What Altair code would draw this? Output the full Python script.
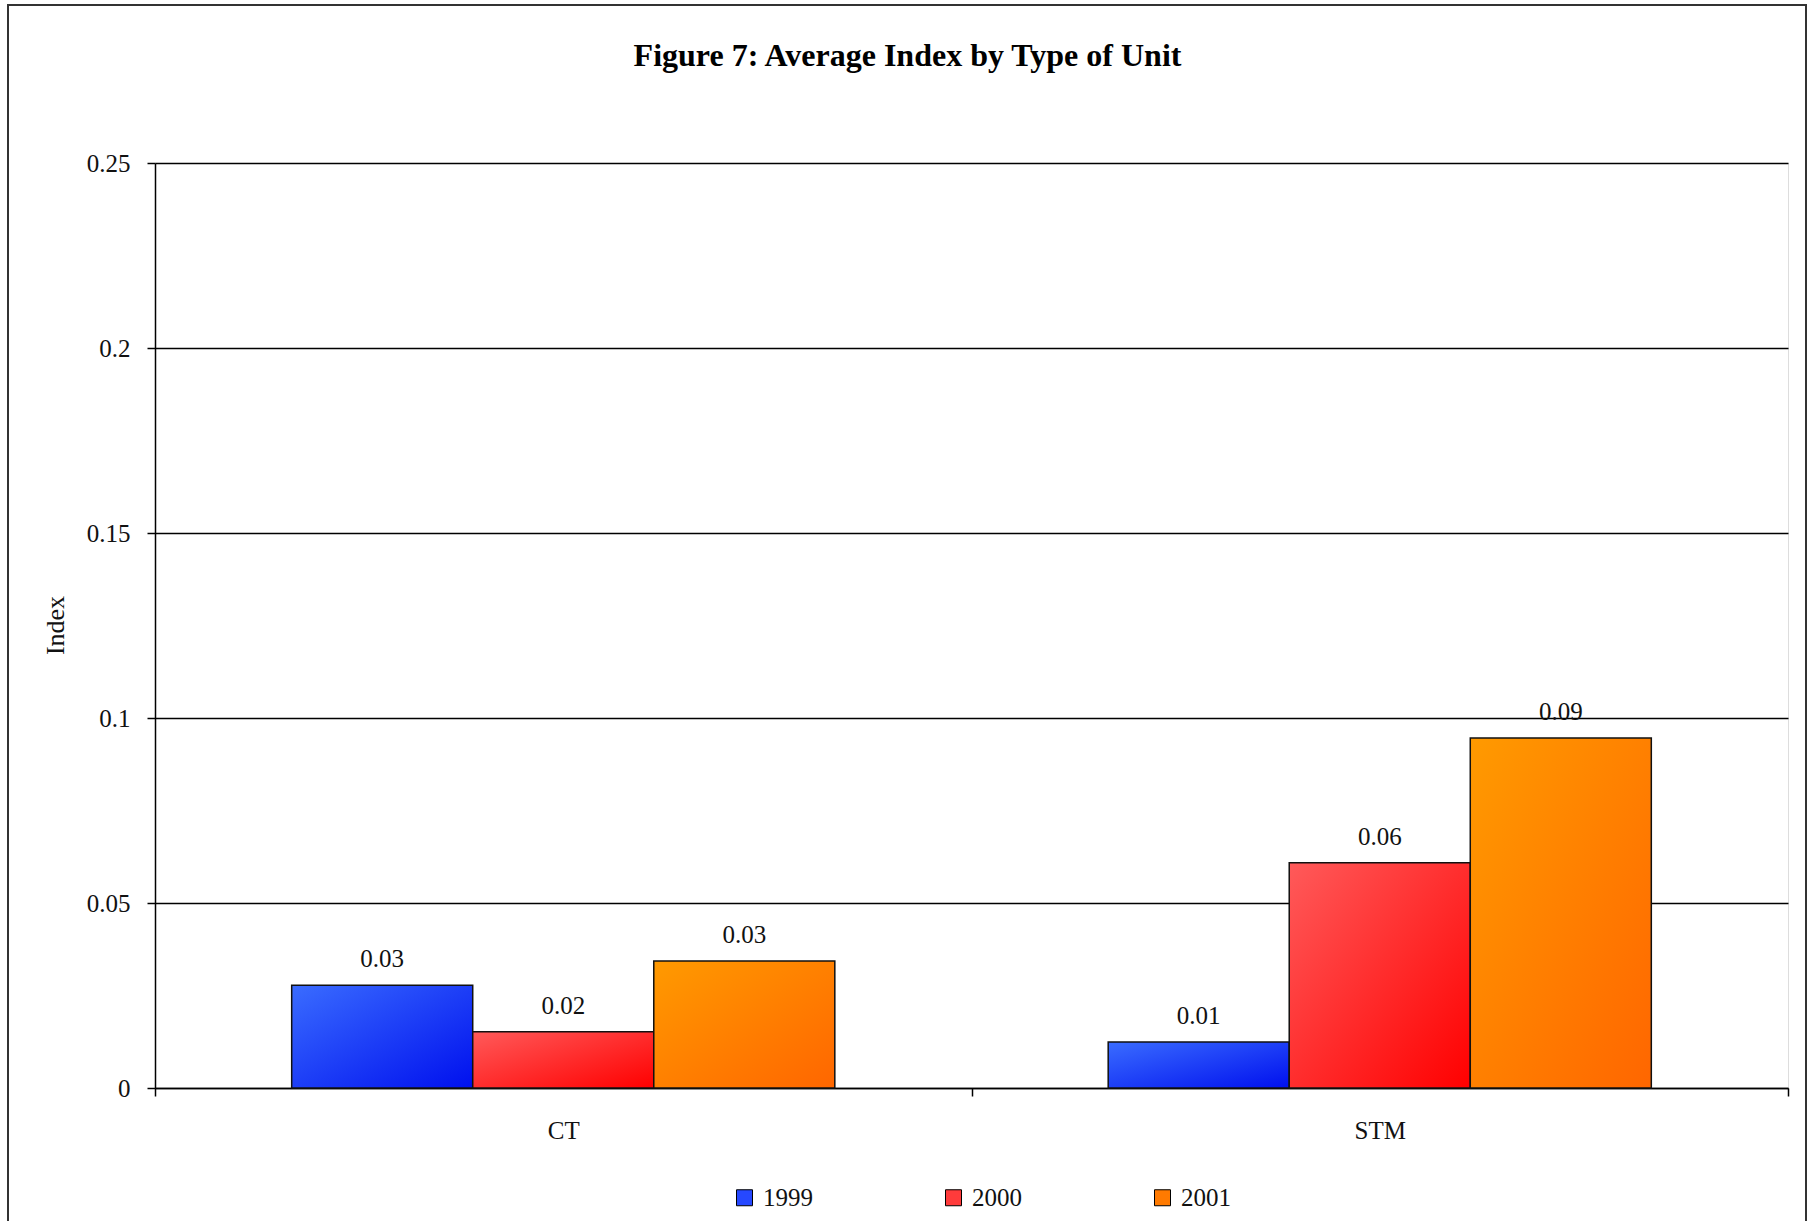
import altair as alt
import pandas as pd

# Average index per unit type and year
units = ["CT", "STM"]
years = ["1999", "2000", "2001"]
idx_1999 = [0.0278, 0.0124]
idx_2000 = [0.0152, 0.0609]
idx_2001 = [0.0343, 0.0946]

legend_colors = ["#2648ff", "#ff3b3b", "#ff7a00"]
gradient_stops = {
    "1999": ("#3a6cff", "#0010ee"),
    "2000": ("#ff5a5a", "#ff0000"),
    "2001": ("#ff9a00", "#ff6600"),
}

rows = []
for i, u in enumerate(units):
    for y, vals in zip(years, [idx_1999, idx_2000, idx_2001]):
        rows.append({"unit": u, "year": y, "index": vals[i]})
df = pd.DataFrame(rows)

SERIF = "Liberation Serif"

x_enc = alt.X(
    "unit:N",
    sort=units,
    scale=alt.Scale(paddingInner=0, paddingOuter=0),
    axis=alt.Axis(
        title=None, labelAngle=0, tickBand="extent", grid=False,
        labelFont=SERIF, labelFontSize=25, labelColor="#111",
        labelPadding=22, tickSize=8, tickColor="#000", domainColor="#000",
        domainWidth=1.5, tickWidth=1.5,
    ),
)
xoff_enc = alt.XOffset(
    "year:N", sort=years, scale=alt.Scale(paddingOuter=0.755, paddingInner=0)
)
y_enc = alt.Y(
    "index:Q",
    scale=alt.Scale(domain=[0, 0.25], nice=False),
    axis=alt.Axis(
        title="Index", values=[0, 0.05, 0.1, 0.15, 0.2, 0.25], format="~g",
        labelFont=SERIF, labelFontSize=25, labelColor="#111", labelPadding=17,
        tickSize=8, tickColor="#000", tickWidth=1.5, domainColor="#000",
        domainWidth=1.5, grid=True, gridColor="#000", gridWidth=1.3,
        titleFont=SERIF, titleFontSize=26, titleFontWeight="normal",
        titleColor="#111", titleX=-100, titleY=462, titleAngle=270,
        titleAlign="center", titleBaseline="middle",
    ),
)

base = alt.Chart(df)

# Flat-colour bars carrying the legend
legend_bars = base.mark_bar().encode(
    x=x_enc, xOffset=xoff_enc, y=y_enc,
    color=alt.Color(
        "year:N", sort=years,
        scale=alt.Scale(domain=years, range=legend_colors),
        legend=alt.Legend(
            title=None, orient="none", legendX=577, legendY=1022,
            direction="horizontal", columnPadding=128, symbolType="square",
            symbolSize=256, symbolStrokeColor="#000", symbolStrokeWidth=1,
            symbolOpacity=1, labelFont=SERIF, labelFontSize=25,
            labelColor="#111", labelOffset=6, padding=0,
        ),
    ),
)

# Shaded bars, one layer per year
shaded = []
for y in years:
    c0, c1 = gradient_stops[y]
    grad = alt.Gradient(
        gradient="linear",
        stops=[alt.GradientStop(color=c0, offset=0), alt.GradientStop(color=c1, offset=1)],
        x1=0, y1=0, x2=1, y2=1,
    )
    shaded.append(
        base.transform_filter(alt.datum.year == y)
        .mark_bar(fill=grad, stroke="#111", strokeWidth=1.5)
        .encode(x=x_enc, xOffset=xoff_enc, y=y_enc)
    )

labels = base.mark_text(
    font=SERIF, fontSize=25, color="#111", baseline="alphabetic", dy=-18
).encode(
    x=x_enc, xOffset=xoff_enc, y=y_enc,
    text=alt.Text("index:Q", format=".2f"),
)

# Outer border around the whole figure
frame = alt.Chart(pd.DataFrame({"f": [0]})).mark_rect(
    fillOpacity=0, stroke="#333", strokeWidth=2
).encode(
    x=alt.value(-147), x2=alt.value(1651), y=alt.value(-158), y2=alt.value(1120)
)

chart = alt.layer(frame, legend_bars, *shaded, labels).properties(
    width=1633,
    height=925,
    autosize=alt.AutoSizeParams(type="none"),
    padding={"left": 155, "top": 163, "right": 25, "bottom": 133},
    title=alt.TitleParams(
        "Figure 7: Average Index by Type of Unit",
        font=SERIF, fontSize=32, fontWeight="bold", color="#000",
        anchor="middle", dx=-64, offset=-94, baseline="alphabetic",
    ),
).configure_view(stroke="#808080", strokeWidth=1.5).configure(background="white")

chart.save("out.html", embed_options={"renderer": "svg", "actions": False})
